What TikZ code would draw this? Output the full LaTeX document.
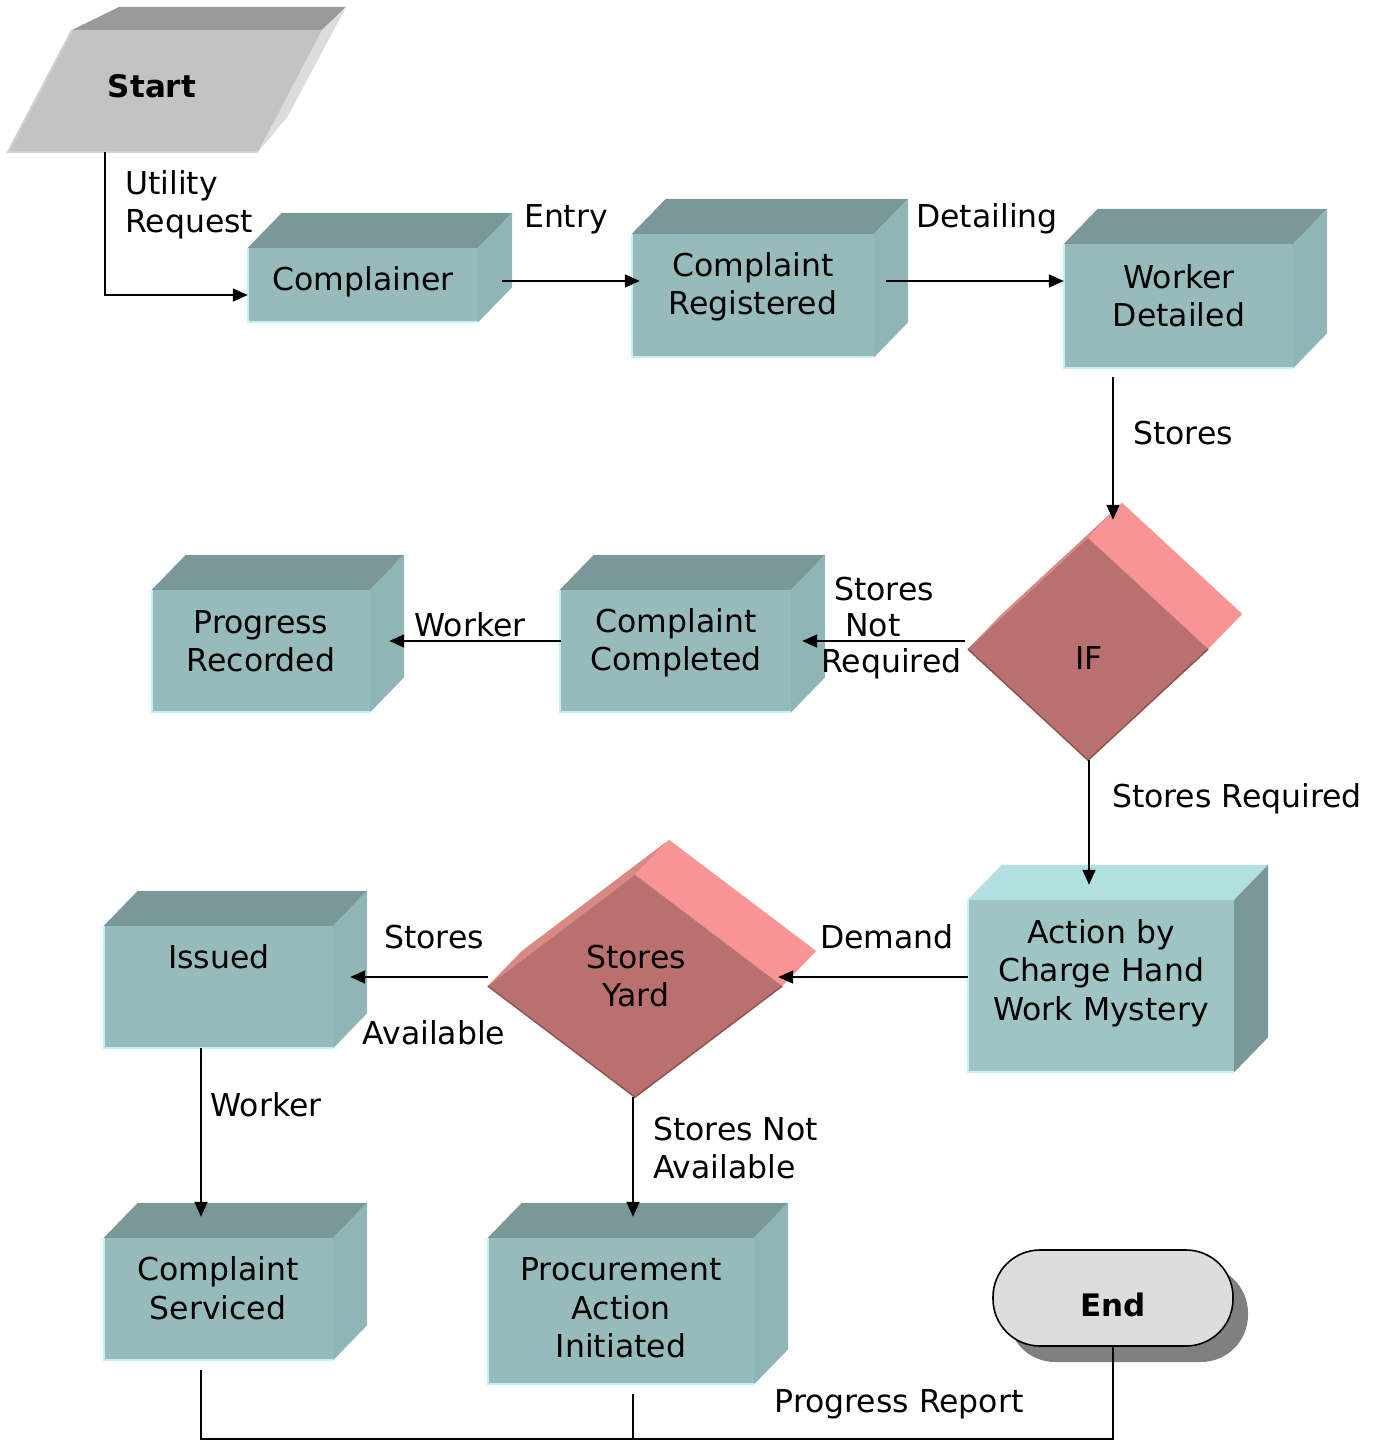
\documentclass[tikz,border=0pt]{standalone}
\usepackage{fontspec}
\setmainfont{DejaVu Sans}
\usetikzlibrary{arrows.meta,shapes.geometric,calc,shadows}

\definecolor{tealfront}{HTML}{96BBBA}
\definecolor{tealtop}{HTML}{7A9897}
\definecolor{tealside}{HTML}{8FB5B4}
\definecolor{tealrim}{HTML}{C2F2F1}
\definecolor{actfront}{HTML}{9EC4C4}
\definecolor{acttop}{HTML}{B2E0E0}
\definecolor{actside}{HTML}{7A9897}
\definecolor{decmain}{HTML}{BA706E}
\definecolor{decright}{HTML}{F89594}
\definecolor{decleft}{HTML}{D98886}
\definecolor{decdark}{HTML}{8E5452}
\definecolor{startfront}{HTML}{C3C3C3}
\definecolor{starttop}{HTML}{999999}
\definecolor{startside}{HTML}{DCDCDC}
\definecolor{endfill}{HTML}{DDDDDD}
\definecolor{endshadow}{HTML}{808080}

% 3D box: #1 colour set, #2 name, #3 centre, #4 width, #5 height
\newcommand\cubebox[5][teal]{%
  \node[frontface, fill=#1front, minimum width=#4pt, minimum height=#5pt] (#2) at #3 {};
  \fill[#1top] (#2.north west) -- ++(34,-35) -- ($(#2.north east)+(34,-35)$) -- (#2.north east) -- cycle;
  \fill[#1side] (#2.north east) -- ++(34,-35) -- ($(#2.south east)+(34,-35)$) -- (#2.south east) -- cycle;
  \draw[rimline] (#2.north west) -- (#2.south west) -- (#2.south east);
}

% decision diamond with extruded back: #1 name, #2 centre, #3 width, #4 height
\newcommand\decision[4]{%
  \node[diamond, inner sep=0pt, minimum width=#3pt, minimum height=#4pt] (#1) at #2 {};
  \fill[decleft] (#1.west) -- (#1.north) -- ($(#1.north)+(34,-35)$) -- ($(#1.west)+(34,-35)$) -- cycle;
  \fill[decright] (#1.north) -- (#1.east) -- ($(#1.east)+(34,-35)$) -- ($(#1.north)+(34,-35)$) -- cycle;
  \fill[decmain] (#1.north) -- (#1.east) -- (#1.south) -- (#1.west) -- cycle;
  \draw[decdark, line width=1.5pt] (#1.west) -- (#1.south) -- (#1.east);
}

\begin{document}
\begin{tikzpicture}[x=1pt,y=-1pt,
  txt/.style={font=\fontsize{31.5}{38.5}\selectfont, inner sep=0pt, align=center},
  boldtxt/.style={font=\fontsize{31}{38}\selectfont\bfseries, inner sep=0pt},
  frontface/.style={rectangle, inner sep=0pt, draw=none},
  rimline/.style={tealrim, line width=2pt},
  ln/.style={line width=1.6pt},
  arr/.style={line width=1.6pt, -{Triangle[length=15pt,width=13pt]}},
  endshape/.style={rectangle, rounded corners=47pt, draw=black, line width=1.6pt,
    fill=endfill, minimum width=240pt, minimum height=96pt, inner sep=0pt,
    drop shadow={shadow xshift=15pt, shadow yshift=-16pt, fill=endshadow, opacity=1}}]

\useasboundingbox (0,0) rectangle (1384,1442);

% ---------- Start (data parallelogram) ----------
\fill[starttop] (72,30) -- (119,7) -- (346,7) -- (322,30) -- cycle;
\fill[startside] (322,30) -- (346,7) -- (288,116) -- (258,152) -- cycle;
\fill[startfront] (72,30) -- (322,30) -- (258,152) -- (8,152) -- cycle;
\draw[white!82!black, line width=2pt] (72,30) -- (8,152) -- (258,152);
\node[boldtxt] (start) at (152,86) {Start};
\coordinate (startfoot) at (105,152);

% ---------- process boxes ----------
\cubebox{complainer}{(363,285)}{230}{74}
\cubebox{reg}{(753,295.5)}{242}{123}
\cubebox{wd}{(1178.5,306)}{229}{124}
\cubebox{prog}{(261,651)}{218}{122}
\cubebox{comp}{(675.5,651)}{231}{122}
\cubebox{issued}{(218.5,987)}{229}{122}
\cubebox[act]{action}{(1101,986)}{266}{172}
\cubebox{serv}{(218.5,1299)}{229}{122}
\cubebox{proc}{(621,1311)}{266}{146}

\node[txt] (complainer-t) at (363,282) {Complainer};
\node[txt] (reg-t) at (753,287) {Complaint\\Registered};
\node[txt] (wd-t) at (1179,296) {Worker\\Detailed};
\node[txt] (prog-t) at (261,641) {Progress\\Recorded};
\node[txt] (comp-t) at (676,643) {Complaint\\Completed};
\node[txt] (issued-t) at (219,957) {Issued};
\node[txt] (action-t) at (1101,973) {Action by\\Charge Hand\\Work Mystery};
\node[txt] (serv-t) at (218,1288) {Complaint\\Serviced};
\node[txt] (proc-t) at (621,1308) {Procurement\\Action\\Initiated};

% ---------- decisions ----------
\decision{iff}{(1088,649)}{240}{222}
\decision{yard}{(635,986)}{294}{222}
\node[txt] (iff-t) at (1089,658) {IF};
\node[txt] (yard-t) at (636,976) {Stores\\Yard};

% ---------- terminator ----------
\node[endshape] (end) at (1113,1298) {};
\node[boldtxt] (end-t) at (1113,1305) {End};

% ---------- connectors ----------
\draw[arr] (startfoot) |- ([yshift=-10pt]complainer.west);
\draw[arr] ($(complainer.east)+(24,-4)$) -- ($(reg.west)+(8,-14.5)$);
\draw[arr] ($(reg.east)+(12,-14.5)$) -- ($(wd.west)+(0,-25)$);
\draw[arr] ($(wd.south)+(-65.5,9)$) -- ($(iff.north)+(25,-18)$);
\draw[arr] ($(iff.west)+(-3,-8)$) -- ($(comp.east)+(11,-10)$);
\draw[arr] ($(comp.west)+(1,-10)$) -- ($(prog.east)+(19,-10)$);
\draw[arr] ($(iff.south)+(1,0)$) -- ($(action.north)+(-12,-15)$);
\draw[arr] ($(action.west)+(0,-9)$) -- ($(yard.east)+(-4,-9)$);
\draw[arr] ($(yard.west)+(0,-9)$) -- ($(issued.east)+(17,-10)$);
\draw[arr] ($(issued.south)+(-17.5,0)$) -- ($(serv.north)+(-17.5,-21)$);
\draw[arr] ($(yard.south)+(-2,0)$) -- ($(proc.north)+(12,-21)$);

\coordinate (bus) at (201,1439);
\draw[ln] ($(serv.south)+(-17.5,10)$) -- (bus) -| (end.south);
\draw[ln] ($(proc.south)+(12,10)$) -- ($(proc.south)+(12,55)$);

% ---------- connector labels ----------
\node[txt, align=left, anchor=west] (l-util) at (125,205) {Utility\\Request};
\node[txt] (l-entry) at (566,219) {Entry};
\node[txt] (l-detail) at (987,219) {Detailing};
\node[txt] (l-stores) at (1183,433) {Stores};
\node[txt, align=left, anchor=west, font=\fontsize{31.5}{36}\selectfont] (l-notreq) at (821,628)
  {\hspace{13pt}Stores\\\hspace{24pt}Not\\Required};
\node[txt] (l-worker1) at (470,625) {Worker};
\node[txt] (l-req) at (1237,799) {Stores Required};
\node[txt] (l-demand) at (887,937) {Demand};
\node[txt] (l-avail1) at (434,937) {Stores};
\node[txt] (l-avail2) at (434,1033) {Available};
\node[txt] (l-worker2) at (266,1105) {Worker};
\node[txt, align=left, anchor=west] (l-notavail) at (653,1148) {Stores Not\\Available};
\node[txt] (l-report) at (899,1404) {Progress Report};

\end{tikzpicture}
\end{document}
